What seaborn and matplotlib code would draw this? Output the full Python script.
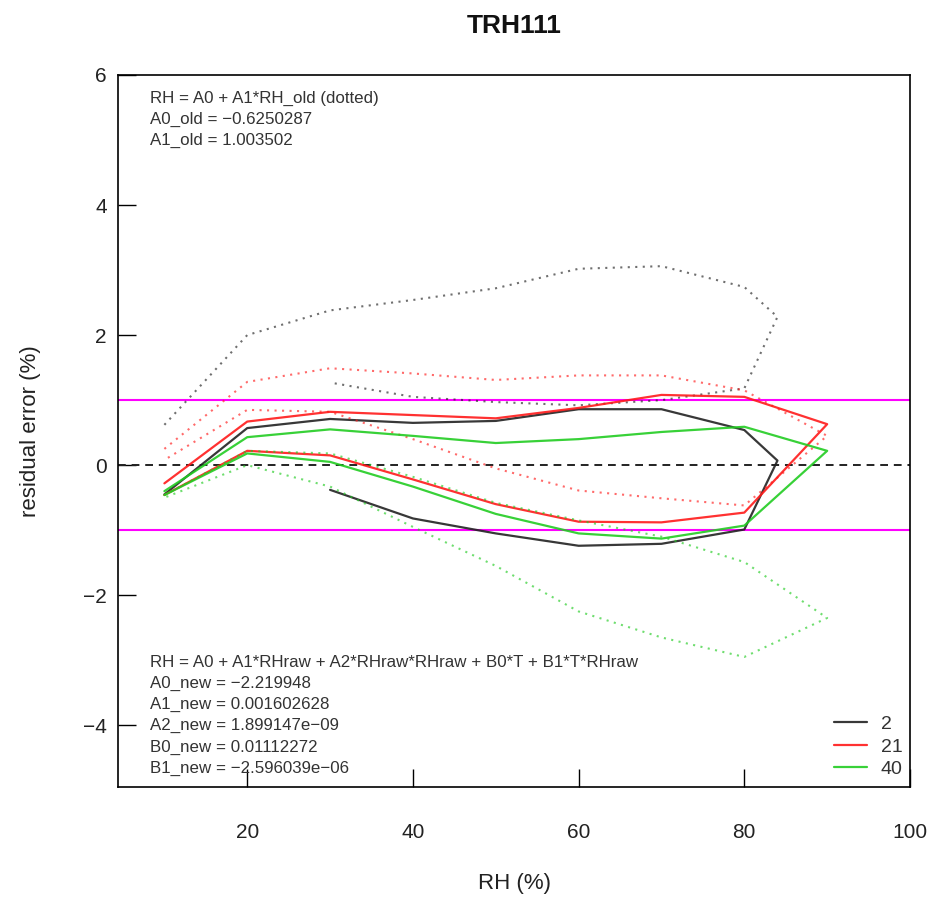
import matplotlib
matplotlib.use("Agg")
import matplotlib.pyplot as plt
import seaborn as sns
import pandas as pd

# ---- data ----
temps = ["2", "21", "40"]
colors = ["#222222", "#FF1A1A", "#22CC22"]

rh_2 = [10, 20, 30, 40, 50, 60, 70, 80, 84, 80, 70, 60, 50, 40, 30]
new_2 = [-0.45, 0.57, 0.71, 0.65, 0.68, 0.86, 0.86, 0.54, 0.07, -0.99, -1.21, -1.24, -1.05, -0.82, -0.38]
old_2 = [0.62, 2.00, 2.38, 2.54, 2.72, 3.02, 3.06, 2.74, 2.28, 1.18, 1.00, 0.92, 0.97, 1.05, 1.27]

rh_21 = [10, 20, 30, 40, 50, 60, 70, 80, 90, 80, 70, 60, 50, 40, 30, 20, 10]
new_21 = [-0.28, 0.67, 0.82, 0.77, 0.72, 0.88, 1.08, 1.05, 0.63, -0.73, -0.88, -0.87, -0.60, -0.22, 0.15, 0.22, -0.46]
old_21 = [0.25, 1.28, 1.49, 1.41, 1.31, 1.38, 1.38, 1.15, 0.45, -0.62, -0.51, -0.39, -0.05, 0.40, 0.82, 0.85, 0.08]

rh_40 = [10, 20, 30, 40, 50, 60, 70, 80, 90, 80, 70, 60, 50, 40, 30, 20, 10]
new_40 = [-0.40, 0.43, 0.55, 0.45, 0.34, 0.40, 0.51, 0.59, 0.22, -0.93, -1.13, -1.05, -0.75, -0.33, 0.05, 0.18, -0.46]
old_40 = [-0.46, 0.22, 0.18, -0.18, -0.58, -0.85, -1.10, -1.49, -2.35, -2.95, -2.65, -2.25, -1.55, -0.95, -0.33, 0.00, -0.50]

title = "TRH111"
xlabel = "RH (%)"
ylabel = "residual error (%)"
xticks = [20, 40, 60, 80, 100]
yticks = [-4, -2, 0, 2, 4, 6]
top_text = ["RH = A0 + A1*RH_old (dotted)",
            "A0_old = \u22120.6250287",
            "A1_old = 1.003502"]
bottom_text = ["RH = A0 + A1*RHraw + A2*RHraw*RHraw + B0*T + B1*T*RHraw",
               "A0_new = \u22122.219948",
               "A1_new = 0.001602628",
               "A2_new = 1.899147e\u221209",
               "B0_new = 0.01112272",
               "B1_new = \u22122.596039e\u221206"]

series = [(rh_2, new_2, old_2), (rh_21, new_21, old_21), (rh_40, new_40, old_40)]

# ---- plot ----
sns.set_style("white")
plt.rcParams["font.family"] = ["Liberation Sans", "DejaVu Sans"]
plt.rcParams["axes.unicode_minus"] = True

fig = plt.figure(figsize=(9.30, 8.97), dpi=100)
ax = fig.add_axes([118 / 930, 1 - 787 / 897, (910 - 118) / 930, (787 - 75) / 897])

ax.axhline(0, color="#222222", lw=1.4, ls=(0, (4, 3)), zorder=1)
ax.axhline(1, color="#FF00FF", lw=1.5, zorder=1)
ax.axhline(-1, color="#FF00FF", lw=1.5, zorder=1)

for (rh, new, old), t, c in zip(series, temps, colors):
    df = pd.DataFrame({"RH": rh, "new": new, "old": old})
    sns.lineplot(data=df, x="RH", y="old", sort=False, estimator=None, ax=ax,
                 color=c, lw=1.5, ls=(0, (1, 2.6)), alpha=0.65, label="_nolegend_")
    sns.lineplot(data=df, x="RH", y="new", sort=False, estimator=None, ax=ax,
                 color=c, lw=1.6, alpha=0.9, label=t)

ax.set_xlim(4.4, 100)
ax.set_ylim(-4.95, 6)
ax.set_xticks(xticks)
ax.set_yticks(yticks)
ax.set_yticklabels([f"{v}".replace("-", "\u2212") for v in yticks])
ax.tick_params(axis="both", direction="in", length=13, width=1, color="black",
               labelsize=15, labelcolor="#222222", bottom=True, left=True)
ax.tick_params(axis="x", pad=26)
ax.tick_params(axis="y", pad=8)
for s in ax.spines.values():
    s.set_color("black")
    s.set_linewidth(1.2)

ax.set_xlabel(xlabel, fontsize=16, labelpad=22, color="#222222")
ax.set_ylabel(ylabel, fontsize=16, labelpad=30, color="#222222")
ax.set_title(title, fontsize=19, fontweight="bold", color="#111111", pad=30)

for i, line in enumerate(top_text):
    fig.text(150 / 930, 1 - (98 + 21.3 * i) / 897, line, fontsize=12.2,
             va="center", ha="left", color="#333333")
for i, line in enumerate(bottom_text):
    fig.text(150 / 930, 1 - (662 + 21.3 * i) / 897, line, fontsize=12.2,
             va="center", ha="left", color="#333333")

leg = ax.legend(loc="lower right", bbox_to_anchor=(1.013, -0.012), frameon=False,
                fontsize=14, handlelength=1.7, handletextpad=0.7, labelspacing=0.25)
for txt in leg.get_texts():
    txt.set_color("#333333")

fig.savefig("out.png", dpi=100)
